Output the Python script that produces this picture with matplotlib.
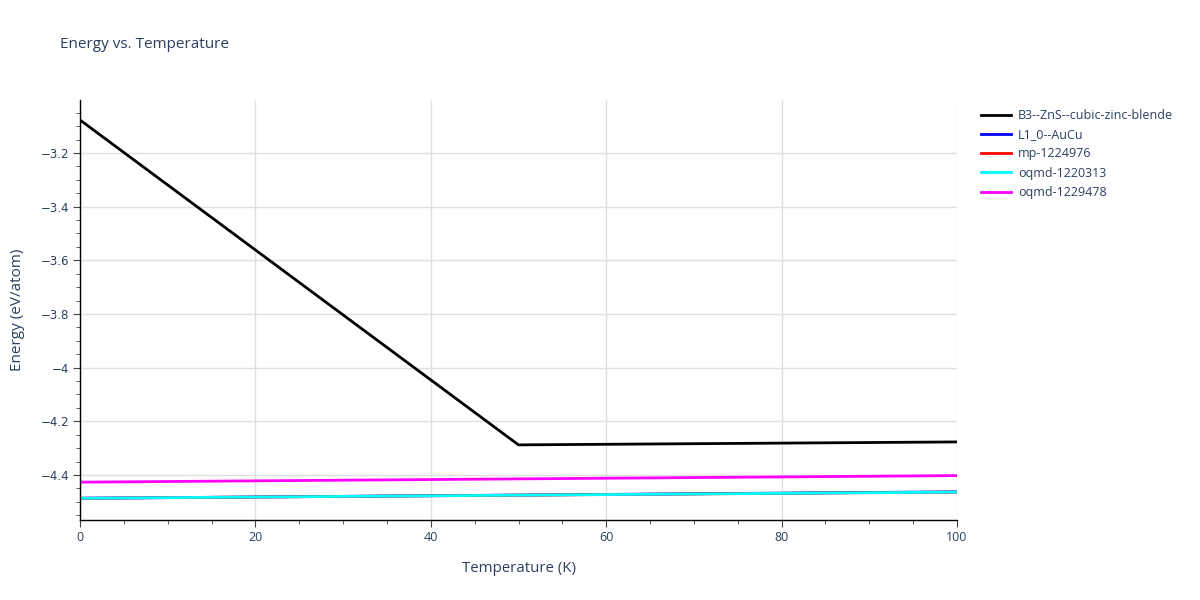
import matplotlib
matplotlib.use("Agg")
import matplotlib.pyplot as plt
from matplotlib.ticker import MultipleLocator, FuncFormatter
from matplotlib.lines import Line2D

temps_black = [0, 50, 100]
e_black = [-3.077, -4.288, -4.277]
temps = [0, 100]
e_blue = [-4.487, -4.463]
e_red = [-4.487, -4.464]
e_cyan = [-4.487, -4.464]
e_magenta = [-4.427, -4.4025]

names = ["B3--ZnS--cubic-zinc-blende", "L1_0--AuCu", "mp-1224976",
         "oqmd-1220313", "oqmd-1229478"]
colors = ["#000000", "#0000ff", "#ff0000", "#00ffff", "#ff00ff"]

txt = "#2a3f5f"
plt.rcParams['font.family'] = ['Open Sans', 'DejaVu Sans']

fig = plt.figure(figsize=(12, 6), dpi=100)
ax = fig.add_axes([80/1200, 1-520/600, (957-80)/1200, 420/600])

series = [(temps_black, e_black), (temps, e_blue), (temps, e_red),
          (temps, e_cyan), (temps, e_magenta)]
for (x, y), c, n in zip(series, colors, names):
    ax.plot(x, y, color=c, lw=2, label=n, solid_capstyle='butt')

ax.set_xlim(0, 100)
ax.set_ylim(-4.568, -3.0025)
ax.xaxis.set_major_locator(MultipleLocator(20))
ax.xaxis.set_minor_locator(MultipleLocator(5))
ax.yaxis.set_major_locator(MultipleLocator(0.2))
ax.yaxis.set_minor_locator(MultipleLocator(0.05))
fmt = FuncFormatter(lambda v, p: ('%g' % round(v, 4)).replace('-', '\u2212'))
ax.yaxis.set_major_formatter(fmt)
ax.grid(True, which='major', color='#e0e0e0', lw=1)
ax.set_axisbelow(True)
for s in ['top', 'right']:
    ax.spines[s].set_visible(False)
for s in ['left', 'bottom']:
    ax.spines[s].set_color('#000000')
    ax.spines[s].set_linewidth(1)
ax.tick_params(which='major', length=5, color='#444444', labelcolor=txt, labelsize=9, pad=3)
ax.tick_params(which='minor', length=3, color='#444444')
for lab in ax.get_yticklabels():
    lab.set_family(['DejaVu Sans'])
    lab.set_fontsize(8.5)

ax.set_xlabel("Temperature (K)", color=txt, fontsize=10.8, labelpad=12)
ax.set_ylabel("Energy (eV/atom)", color=txt, fontsize=11, labelpad=11)
fig.text(60/1200, 1-45/600, "Energy vs. Temperature", color=txt, fontsize=11, va='center')

handles = [Line2D([0], [0], color=c, lw=2) for c in colors]
leg = fig.legend(handles, names, loc='upper left', bbox_to_anchor=(976/1200, 1-104/600),
                 frameon=False, fontsize=9, handlelength=2.4, handletextpad=0.55,
                 labelspacing=0.5, borderaxespad=0)
for t in leg.get_texts():
    t.set_color(txt)

fig.savefig("out.png", dpi=100)
